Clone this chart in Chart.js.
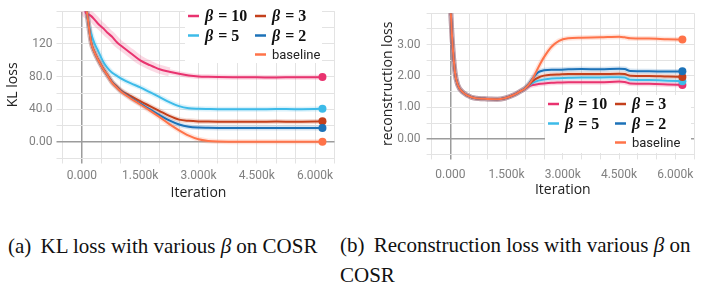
<!DOCTYPE html>
<html>
<head>
<meta charset="utf-8">
<script src="https://cdn.jsdelivr.net/npm/chart.js@4.4.1/dist/chart.umd.min.js"></script>
<style>
  html, body { margin: 0; padding: 0; background: #fff; }
  body { width: 704px; height: 289px; position: relative; overflow: hidden; }
  .panel { position: absolute; top: 0; width: 352px; height: 205px; }
  .cap { position: absolute; font-family: 'Liberation Serif', serif; font-size: 21px; line-height: 30px; color: #111; white-space: nowrap; }
  .cap .lbl { margin-right: 4px; }
</style>
</head>
<body>
<div class="panel" style="left:0"><canvas id="kl" width="352" height="205"></canvas></div>
<div class="panel" style="left:352px"><canvas id="rec" width="352" height="205"></canvas></div>
<div class="cap" style="left:8px; top:231px"><span class="lbl">(a)</span> KL loss with various <i>β</i> on COSR</div>
<div class="cap" style="left:340px; top:230px"><span class="lbl">(b)</span> Reconstruction loss with various <i>β</i> on<br>COSR</div>
<script>
// series
const seriesNames = ['β = 10', 'β = 5', 'β = 3', 'β = 2', 'baseline'];
const seriesColors = ['#e9336f', '#3dbbe9', '#c4401c', '#1c72b8', '#ff7349'];

// tick labels
const iterTicks = [0, 1500, 3000, 4500, 6000];
const klTicks = [0, 40, 80, 120];
const recTicks = [0, 1, 2, 3];

// KL loss
const klIters = [20, 110, 170, 240, 320, 410, 550, 650, 770, 900, 1000, 1250, 1500, 1750, 2000, 2250, 2500, 2750, 3000, 3250, 3500, 4000, 4500, 5000, 5500, 6000, 6190];
const klBeta10 = [178, 157, 156, 154, 150, 145, 139, 134, 129, 122, 118, 109, 100, 94, 89, 86, 83.5, 81.5, 80.3, 79.8, 79.5, 79.3, 79.2, 79.0, 79.3, 79.2, 79.5];
const klBeta5 = [230, 168, 145, 132, 121, 112, 98, 91, 85, 81, 78, 72, 67, 61, 55, 49, 44, 41.5, 40.8, 40.5, 40.3, 40.3, 40.2, 40.4, 40.3, 40.5, 40.8];
const klBeta3 = [230, 168, 144.5, 121.5, 110.5, 101.5, 89.5, 82.5, 74, 68, 63.5, 56.5, 50, 44, 38, 32, 27.5, 26, 25.3, 25.1, 25, 25, 25, 25.1, 25, 25.2, 25.6];
const klBeta2 = [230, 168, 144, 121, 110, 101, 89, 82, 73.5, 67, 62.5, 54.5, 47, 40, 33, 26.5, 21.5, 18.8, 17.8, 17.5, 17.3, 17.2, 17.2, 17.2, 17.2, 17.2, 17.2];
const klBase = [230, 168, 144, 121, 110, 101, 89, 82, 73, 66.5, 62, 53.5, 46, 38.5, 30.5, 22, 14.5, 8, 3.5, 1.5, 0.8, 0.6, 0.5, 0.5, 0.5, 0.5, 0.6];

// reconstruction loss
const recIters = [0, 53, 125, 196, 344, 566, 918, 1250, 1450, 1700, 1850, 2000, 2100, 2200, 2350, 2500, 2700, 2900, 3150, 3500, 4000, 4500, 4650, 4800, 5300, 5800, 6190];
const recBeta10 = [4.3, 3.11, 2.11, 1.72, 1.47, 1.32, 1.27, 1.26, 1.29, 1.40, 1.50, 1.60, 1.67, 1.71, 1.74, 1.76, 1.78, 1.79, 1.80, 1.80, 1.80, 1.82, 1.81, 1.76, 1.75, 1.73, 1.71];
const recBeta5 = [4.3, 3.11, 2.11, 1.72, 1.47, 1.32, 1.27, 1.26, 1.29, 1.40, 1.50, 1.61, 1.70, 1.78, 1.85, 1.89, 1.92, 1.93, 1.94, 1.95, 1.95, 1.96, 1.95, 1.88, 1.87, 1.85, 1.83];
const recBeta3 = [4.3, 3.11, 2.11, 1.72, 1.47, 1.32, 1.27, 1.26, 1.29, 1.40, 1.50, 1.61, 1.72, 1.84, 1.95, 2.01, 2.04, 2.05, 2.06, 2.06, 2.06, 2.07, 2.06, 2.01, 2.00, 1.98, 1.97];
const recBeta2 = [4.3, 3.11, 2.11, 1.72, 1.47, 1.32, 1.27, 1.26, 1.29, 1.40, 1.50, 1.61, 1.76, 1.93, 2.12, 2.18, 2.20, 2.20, 2.21, 2.22, 2.21, 2.23, 2.22, 2.16, 2.15, 2.14, 2.15];
const recBase = [4.3, 3.11, 2.11, 1.72, 1.47, 1.32, 1.27, 1.26, 1.29, 1.40, 1.50, 1.61, 1.74, 1.92, 2.28, 2.60, 2.93, 3.12, 3.20, 3.22, 3.23, 3.25, 3.23, 3.20, 3.19, 3.17, 3.16];

// legend slot [row, col] for each series
const legendSlots = [[0, 0], [1, 0], [0, 1], [1, 1], [2, 1]];

const betaLegend = {
  id: 'betaLegend',
  afterDatasetsDraw(chart, args, opts) {
    const ctx = chart.ctx;
    const b = opts.box;
    ctx.save();
    ctx.fillStyle = '#fff';
    ctx.fillRect(b.x, b.y, b.w, b.h);
    const rows = [9, 28.5, 47.5];
    const cols = [3, 70];
    seriesNames.forEach((name, i) => {
      const [r, c] = legendSlots[i];
      const x = b.x + cols[c];
      const y = b.y + rows[r];
      ctx.strokeStyle = seriesColors[i];
      ctx.lineWidth = 2.5;
      ctx.beginPath();
      ctx.moveTo(x, y);
      ctx.lineTo(x + 11, y);
      ctx.stroke();
      ctx.fillStyle = '#111';
      ctx.textBaseline = 'middle';
      ctx.textAlign = 'left';
      if (name.startsWith('β')) {
        ctx.font = "bold italic 16px 'Liberation Serif'";
        ctx.fillText('β', x + 17, y + 1);
        const bw = ctx.measureText('β').width;
        ctx.font = "bold 16px 'Liberation Serif'";
        ctx.fillText('= ' + name.split('= ')[1], x + 17 + bw + 5, y + 1);
      } else {
        ctx.font = "13px Roboto";
        ctx.fillStyle = '#222';
        ctx.fillText(name, x + 17, y + 1);
      }
    });
    ctx.restore();
  }
};

function buildDatasets(iters, seriesVals, wideBand) {
  const sets = [];
  seriesVals.forEach((vals, i) => {
    const pts = iters.map((x, k) => ({ x: x, y: vals[k] }));
    sets.push({
      data: pts,
      borderColor: seriesColors[i] + '30',
      borderWidth: 5,
      segment: {
        // the noisy run shows a wider shaded band early on
        borderWidth: s => (wideBand === i && s.p0.parsed.x < 2200) ? 9 : 5
      },
      pointRadius: 0,
      cubicInterpolationMode: 'monotone',
      order: 20 - i
    });
    sets.push({
      data: pts,
      borderColor: seriesColors[i],
      backgroundColor: seriesColors[i],
      borderWidth: 2,
      pointRadius: c => c.dataIndex === pts.length - 1 ? 4 : 0,
      pointBorderWidth: 0,
      cubicInterpolationMode: 'monotone',
      order: 10 - i
    });
  });
  return sets;
}

const gridColor = c => (c.tick && c.tick.value === 0) ? '#9c9c9c' : '#e3e3e3';
const gridWidth = c => (c.tick && c.tick.value === 0) ? 1.5 : 1;
const tickFont = { family: 'Roboto', size: 12 };
const titleFont = { family: "'Open Sans'", size: 14 };

function makeChart(id, cfg) {
  return new Chart(document.getElementById(id), {
    type: 'line',
    data: { datasets: buildDatasets(cfg.iters, cfg.series, cfg.wideBand) },
    plugins: [betaLegend],
    options: {
      responsive: false,
      animation: false,
      layout: { padding: cfg.padding },
      plugins: {
        legend: { display: false },
        tooltip: { enabled: false },
        betaLegend: { box: cfg.legendBox }
      },
      scales: {
        x: {
          type: 'linear',
          min: -500,
          max: 6500,
          afterFit: s => { s.height = cfg.xHeight; },
          border: { display: false },
          grid: { color: gridColor, lineWidth: gridWidth, tickLength: 5 },
          ticks: {
            stepSize: 500,
            autoSkip: false,
            maxRotation: 0,
            minRotation: 0,
            padding: cfg.xTickPad,
            color: '#808080',
            font: tickFont,
            callback: v => iterTicks.includes(v) ? (v === 0 ? '0.000' : (v / 1000).toFixed(3) + 'k') : ''
          },
          title: { display: true, text: 'Iteration', color: '#222', font: titleFont, padding: { top: 0, bottom: cfg.xTitlePad } }
        },
        y: {
          min: cfg.yMin,
          max: cfg.yMax,
          afterFit: s => { s.width = cfg.yWidth; },
          border: { display: false },
          grid: { color: gridColor, lineWidth: gridWidth, tickLength: cfg.yTickLen },
          ticks: {
            stepSize: cfg.yStep,
            autoSkip: false,
            padding: cfg.yTickPad,
            color: '#808080',
            font: tickFont,
            callback: cfg.yLabel
          },
          title: { display: true, text: cfg.yTitle, color: '#222', font: titleFont, padding: { top: cfg.yTitlePad, bottom: 0 } }
        }
      }
    }
  });
}

makeChart('kl', {
  iters: klIters,
  series: [klBeta10, klBeta5, klBeta3, klBeta2, klBase],
  wideBand: 0,
  padding: { left: 0, top: 7, right: 17.5, bottom: 0 },
  xHeight: 46.5,
  yWidth: 62.5,
  yMin: -20, yMax: 160, yStep: 20,
  yTickLen: 6, yTickPad: 4,
  xTickPad: 5, xTitlePad: 4, yTitlePad: 5,
  yTitle: 'KL loss',
  yLabel: v => klTicks.includes(v) ? v.toPrecision(3) : '',
  legendBox: { x: 185, y: 7, w: 137, h: 56 }
});

makeChart('rec', {
  iters: recIters,
  series: [recBeta10, recBeta5, recBeta3, recBeta2, recBase],
  wideBand: -1,
  padding: { left: 0, top: 4, right: 10, bottom: 0 },
  xHeight: 50.6,
  yWidth: 79.6,
  yMin: -0.5, yMax: 4, yStep: 0.5,
  yTickLen: 5, yTickPad: 6,
  xTickPad: 8, xTitlePad: 7, yTitlePad: 28,
  yTitle: 'reconstruction loss',
  yLabel: v => recTicks.includes(v) ? v.toFixed(2) : '',
  legendBox: { x: 193, y: 95, w: 146, h: 58 }
});
</script>
</body>
</html>
